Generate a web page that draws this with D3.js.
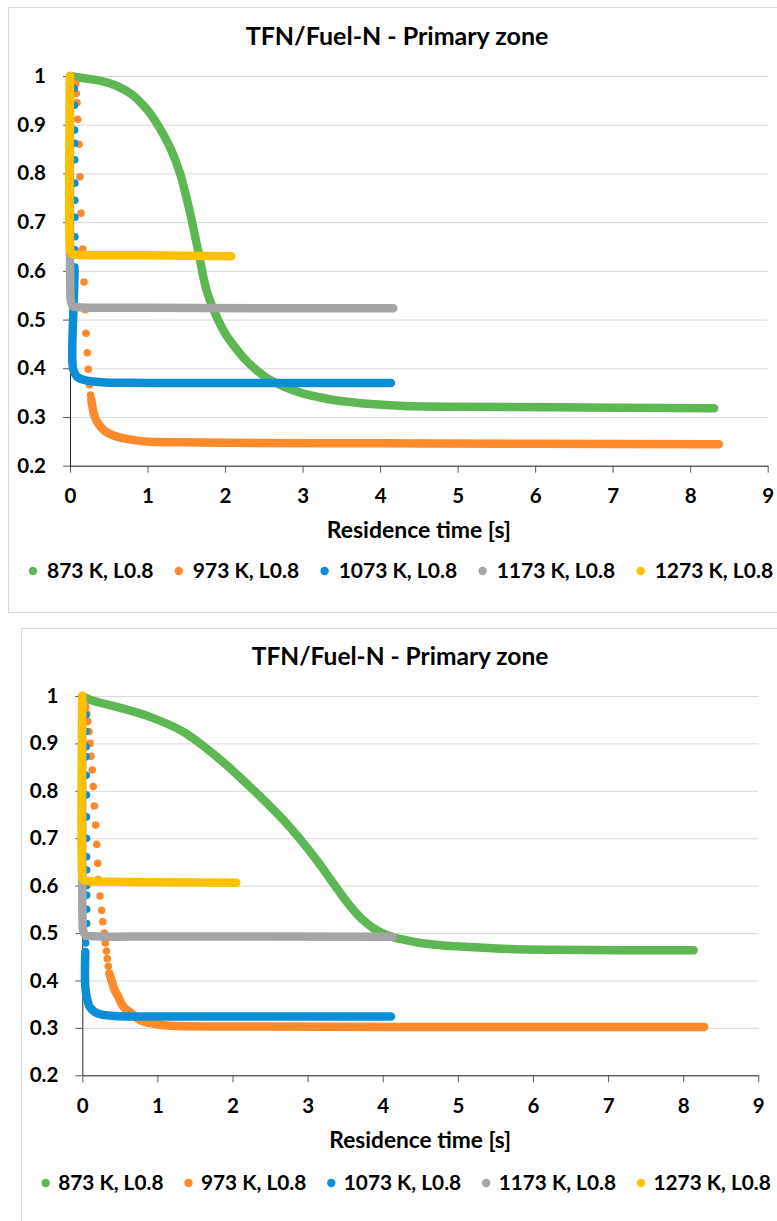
<!DOCTYPE html>
<html>
<head>
<meta charset="utf-8">
<script src="https://cdn.jsdelivr.net/npm/d3@7"></script>
<style>
  body { margin: 0; background: #fff; }
  svg text { font-family: Lato, "Open Sans", sans-serif; font-weight: bold; fill: #000; }
</style>
</head>
<body>
<div id="charts"></div>
<script>
// series names and tick values
const seriesNames = ["873 K, L0.8", "973 K, L0.8", "1073 K, L0.8", "1173 K, L0.8", "1273 K, L0.8"];
const xTicks = [0, 1, 2, 3, 4, 5, 6, 7, 8, 9];
const yTicks = [0.2, 0.3, 0.4, 0.5, 0.6, 0.7, 0.8, 0.9, 1];
const chartTitle = "TFN/Fuel-N - Primary zone";
const xTitle = "Residence time [s]";

// ---- upper chart, [time s, TFN/Fuel-N] ----
const green1 = [[0, 1], [0.2, 0.995], [0.4, 0.99], [0.6, 0.98], [0.8, 0.962], [1.0, 0.93], [1.15, 0.895],
  [1.3, 0.85], [1.42, 0.80], [1.55, 0.718], [1.66, 0.636], [1.76, 0.561], [1.88, 0.51], [2.0, 0.472],
  [2.12, 0.445], [2.25, 0.42], [2.4, 0.397], [2.54, 0.38], [2.75, 0.363], [2.97, 0.35], [3.2, 0.341],
  [3.4, 0.335], [3.6, 0.331], [3.83, 0.327], [4.26, 0.323], [4.86, 0.321], [6.15, 0.320], [8.31, 0.318]];
const orange1Dots = [[0, 1], [0.073, 0.984], [0.081, 0.964], [0.09, 0.945], [0.099, 0.911], [0.116, 0.86], [0.129, 0.793],
  [0.142, 0.718], [0.164, 0.645], [0.181, 0.577], [0.194, 0.52], [0.206, 0.472], [0.223, 0.432], [0.236, 0.398],
  [0.254, 0.366], [0.267, 0.345]];
const orange1 = [[0.275, 0.336], [0.29, 0.32], [0.32, 0.30], [0.37, 0.285], [0.45, 0.271], [0.56, 0.262], [0.7, 0.256],
  [0.85, 0.252], [1.03, 0.249], [1.5, 0.248], [2, 0.247], [4, 0.246], [6, 0.245], [8.37, 0.244]];
const blue1Dots = [[0.055, 0.975], [0.057, 0.94], [0.06, 0.889], [0.06, 0.862], [0.061, 0.828], [0.062, 0.78],
  [0.062, 0.745], [0.063, 0.71], [0.063, 0.67], [0.063, 0.643], [0.063, 0.608]];
const blue1 = [[0.06, 0.6], [0.05, 0.55], [0.04, 0.5], [0.03, 0.45], [0.03, 0.417], [0.045, 0.396], [0.09, 0.383],
  [0.2, 0.375], [0.45, 0.371], [1, 0.37], [4.14, 0.37]];
const gray1 = [[0, 1], [0, 0.62], [0.004, 0.56], [0.012, 0.538], [0.04, 0.527], [0.15, 0.525], [1, 0.524], [4.17, 0.523]];
const yellow1 = [[0, 1], [0, 0.645], [0.01, 0.637], [0.05, 0.634], [0.5, 0.632], [1, 0.632], [2.08, 0.630]];

// ---- lower chart ----
const green2 = [[0, 1], [0.1, 0.992], [0.46, 0.977], [0.9, 0.956], [1.34, 0.925], [1.79, 0.872], [2.23, 0.809],
  [2.68, 0.738], [3.12, 0.654], [3.35, 0.603], [3.56, 0.558], [3.72, 0.53], [3.88, 0.51], [4.05, 0.496],
  [4.25, 0.487], [4.5, 0.479], [4.8, 0.474], [5.1, 0.471], [5.6, 0.467], [6.18, 0.465], [7.2, 0.464], [8.14, 0.464]];
const orange2Dots = [[0, 1], [0.045, 0.977], [0.059, 0.963], [0.072, 0.946], [0.089, 0.925], [0.103, 0.90], [0.116, 0.873],
  [0.133, 0.844], [0.146, 0.809], [0.16, 0.768], [0.178, 0.728], [0.192, 0.687], [0.205, 0.647], [0.213, 0.613],
  [0.236, 0.578], [0.258, 0.548], [0.272, 0.524], [0.293, 0.50], [0.306, 0.479], [0.32, 0.462], [0.333, 0.446],
  [0.346, 0.43]];
const orange2 = [[0.36, 0.415], [0.39, 0.40], [0.43, 0.38], [0.48, 0.365], [0.55, 0.344], [0.66, 0.33], [0.77, 0.316],
  [0.9, 0.31], [1.12, 0.305], [2.0, 0.303], [4, 0.302], [6, 0.302], [8.28, 0.302]];
const blue2Dots = [[0.05, 0.96], [0.05, 0.925], [0.051, 0.893], [0.052, 0.872], [0.053, 0.833], [0.055, 0.791],
  [0.055, 0.745], [0.056, 0.70], [0.057, 0.661], [0.058, 0.633], [0.058, 0.6], [0.058, 0.58], [0.058, 0.55],
  [0.058, 0.52], [0.045, 0.479]];
const blue2 = [[0.04, 0.46], [0.036, 0.43], [0.036, 0.40], [0.045, 0.379], [0.1, 0.344], [0.21, 0.33], [0.44, 0.325],
  [0.83, 0.324], [2, 0.324], [4.11, 0.324]];
const gray2 = [[0, 1], [0, 0.6], [0.003, 0.53], [0.012, 0.505], [0.04, 0.496], [0.2, 0.493], [1, 0.493], [4.13, 0.492]];
const yellow2 = [[0, 1], [0, 0.62], [0.01, 0.613], [0.05, 0.61], [0.5, 0.608], [1, 0.607], [2.05, 0.606]];

const colors = ["#5DB853", "#FF8A2B", "#0A8ED6", "#A5A5A5", "#FFC000"];

const W = 777, H = 1221;
const svg = d3.select("#charts").append("svg")
  .attr("width", W).attr("height", H)
  .attr("viewBox", "0 0 " + W + " " + H);

function drawChart(p) {
  const g = svg.append("g");

  g.append("rect")
    .attr("x", p.frame[0]).attr("y", p.frame[1])
    .attr("width", p.frame[2]).attr("height", p.frame[3])
    .attr("fill", "#fff").attr("stroke", "#d9d9d9");

  const x = d3.scaleLinear().domain([0, 9]).range(p.xr);
  const y = d3.scaleLinear().domain([0.2, 1]).range(p.yr);

  // gridlines
  g.append("g")
    .attr("transform", "translate(" + p.xr[0] + ",0)")
    .call(d3.axisLeft(y).tickValues(yTicks).tickSize(-(p.xr[1] - p.xr[0])).tickFormat(""))
    .call(s => s.select(".domain").remove())
    .call(s => s.selectAll("line").attr("stroke", "#d9d9d9"));

  // axes
  g.append("g")
    .attr("transform", "translate(0," + p.yr[0] + ")")
    .call(d3.axisBottom(x).tickValues(xTicks).tickSize(7).tickSizeOuter(0).tickPadding(16))
    .call(s => s.select(".domain").attr("stroke", "#262626"))
    .call(s => s.selectAll(".tick line").attr("stroke", "#595959"))
    .call(s => s.selectAll("text").style("font-size", p.fs + "px"));

  g.append("g")
    .attr("transform", "translate(" + p.xr[0] + ",0)")
    .call(d3.axisLeft(y).tickValues(yTicks).tickSize(7).tickSizeOuter(0).tickPadding(17).tickFormat(d3.format("~g")))
    .call(s => s.select(".domain").attr("stroke", "#262626"))
    .call(s => s.selectAll(".tick line").attr("stroke", "#595959"))
    .call(s => s.selectAll("text").style("font-size", p.fs + "px"));

  // series
  const line = d3.line().x(d => x(d[0])).y(d => y(d[1])).curve(d3.curveCatmullRom.alpha(0.5));
  p.series.forEach((s, i) => {
    g.append("g").selectAll("circle")
      .data(s.dots)
      .join("circle")
      .attr("cx", d => x(d[0])).attr("cy", d => y(d[1]))
      .attr("r", 3.8)
      .attr("fill", colors[i]);
    g.append("path")
      .datum(s.line)
      .attr("d", line)
      .attr("fill", "none")
      .attr("stroke", colors[i])
      .attr("stroke-width", 8.5)
      .attr("stroke-linecap", "round")
      .attr("stroke-linejoin", "round");
  });

  // titles
  g.append("text")
    .attr("x", p.titleX).attr("y", p.titleY)
    .attr("text-anchor", "middle")
    .style("font-size", p.tfs + "px")
    .text(chartTitle);

  g.append("text")
    .attr("x", (p.xr[0] + p.xr[1]) / 2).attr("y", p.xTitleY)
    .attr("text-anchor", "middle")
    .attr("dy", "0.35em")
    .style("font-size", p.afs + "px")
    .text(xTitle);

  // legend
  let lx = p.legendX;
  seriesNames.forEach((name, i) => {
    g.append("circle")
      .attr("cx", lx).attr("cy", p.legendY)
      .attr("r", 4.2).attr("fill", colors[i]);
    const t = g.append("text")
      .attr("x", lx + p.markGap).attr("y", p.legendY)
      .attr("dy", "0.35em")
      .style("font-size", p.lfs + "px")
      .text(name);
    lx += p.markGap + t.node().getComputedTextLength() + p.itemGap;
  });
}

drawChart({
  frame: [8.5, 7.5, 790, 605], xr: [70, 767.7], yr: [465.7, 76],
  titleX: 397, titleY: 45, xTitleY: 530, legendY: 571, legendX: 33, markGap: 14, itemGap: 25.5,
  fs: 20.5, tfs: 25, afs: 23, lfs: 21,
  series: [
    { dots: [], line: green1 },
    { dots: orange1Dots, line: orange1 },
    { dots: blue1Dots, line: blue1 },
    { dots: [], line: gray1 },
    { dots: [], line: yellow1 }
  ]
});

drawChart({
  frame: [21.5, 628.5, 780, 620], xr: [82.3, 758.3], yr: [1075.3, 696],
  titleX: 400, titleY: 665, xTitleY: 1140, legendY: 1183, legendX: 45.7, markGap: 12.5, itemGap: 25,
  fs: 20.5, tfs: 24.5, afs: 22.7, lfs: 20.8,
  series: [
    { dots: [], line: green2 },
    { dots: orange2Dots, line: orange2 },
    { dots: blue2Dots, line: blue2 },
    { dots: [], line: gray2 },
    { dots: [], line: yellow2 }
  ]
});
</script>
</body>
</html>
